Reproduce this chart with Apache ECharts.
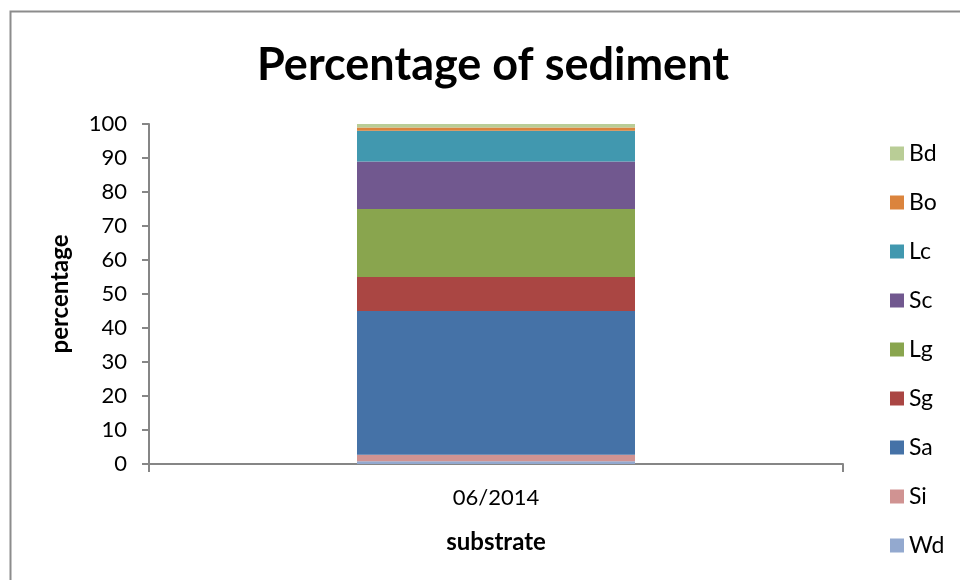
<!DOCTYPE html>
<html>

<head>
  <meta charset="UTF-8">
  <title>Percentage of sediment</title>
  <script src="https://cdn.jsdelivr.net/npm/echarts@6/dist/echarts.min.js"></script>
</head>

<body style="margin:0">
  <div id="main" style="width: 960px;height:580px;"></div>
  <script type="text/javascript">
    // data
    var categories = ['06/2014'];
    var seriesNames = ['Wd', 'Si', 'Sa', 'Sg', 'Lg', 'Sc', 'Lc', 'Bo', 'Bd'];
    var seriesValues = [0.8, 1.9, 42.3, 10, 20, 14, 9, 1, 1];
    var seriesColors = ['#93A9CF', '#D09392', '#4572A7', '#AA4643', '#89A54E', '#71588F', '#4198AF', '#DB843D', '#B9CD96'];
    var yTicks = [0, 10, 20, 30, 40, 50, 60, 70, 80, 90, 100];

    var myChart = echarts.init(document.getElementById('main'));
    var font = 'Lato, "Liberation Sans", sans-serif';

    var series = seriesNames.map(function (name, i) {
      return {
        name: name,
        type: 'bar',
        stack: 'total',
        barWidth: 278,
        itemStyle: { color: seriesColors[i] },
        data: [seriesValues[i]]
      };
    });

    var option = {
      animation: false,
      textStyle: { fontFamily: font },
      title: {
        text: 'Percentage of sediment',
        left: 488,
        top: 38,
        textAlign: 'center',
        textStyle: { fontSize: 45, fontWeight: 'bold', color: '#000', fontFamily: font }
      },
      graphic: [{ // chart border
        type: 'rect',
        shape: { x: 10.5, y: 11.5, width: 1000, height: 1000 },
        style: { fill: 'none', stroke: '#8c8c8c', lineWidth: 2 }
      }],
      legend: {
        orient: 'vertical',
        left: 885,
        top: 137,
        itemWidth: 14,
        itemHeight: 14,
        itemGap: 26,
        icon: 'rect',
        data: seriesNames.slice().reverse(),
        textStyle: { fontSize: 23, lineHeight: 22, color: '#000', fontFamily: font }
      },
      grid: { left: 149, right: 117, top: 124, bottom: 116 },
      xAxis: {
        type: 'category',
        data: categories,
        name: 'substrate',
        nameLocation: 'middle',
        nameGap: 66,
        nameTextStyle: { fontSize: 24, fontWeight: 'bold', color: '#000' },
        axisLine: { lineStyle: { color: '#868686', width: 2 } },
        axisTick: { show: true, length: 8, lineStyle: { color: '#868686', width: 2 } },
        axisLabel: { fontSize: 22, color: '#000', margin: 23 }
      },
      yAxis: {
        type: 'value',
        min: yTicks[0],
        max: yTicks[yTicks.length - 1],
        interval: 10,
        name: 'percentage',
        nameLocation: 'middle',
        nameGap: 77,
        nameTextStyle: { fontSize: 24, fontWeight: 'bold', color: '#000' },
        splitLine: { show: false },
        axisLine: { show: true, lineStyle: { color: '#868686', width: 2 } },
        axisTick: { show: true, length: 7, lineStyle: { color: '#868686', width: 2 } },
        axisLabel: { fontSize: 22, color: '#000', margin: 22 }
      },
      series: series
    };

    myChart.setOption(option);
  </script>
</body>

</html>
